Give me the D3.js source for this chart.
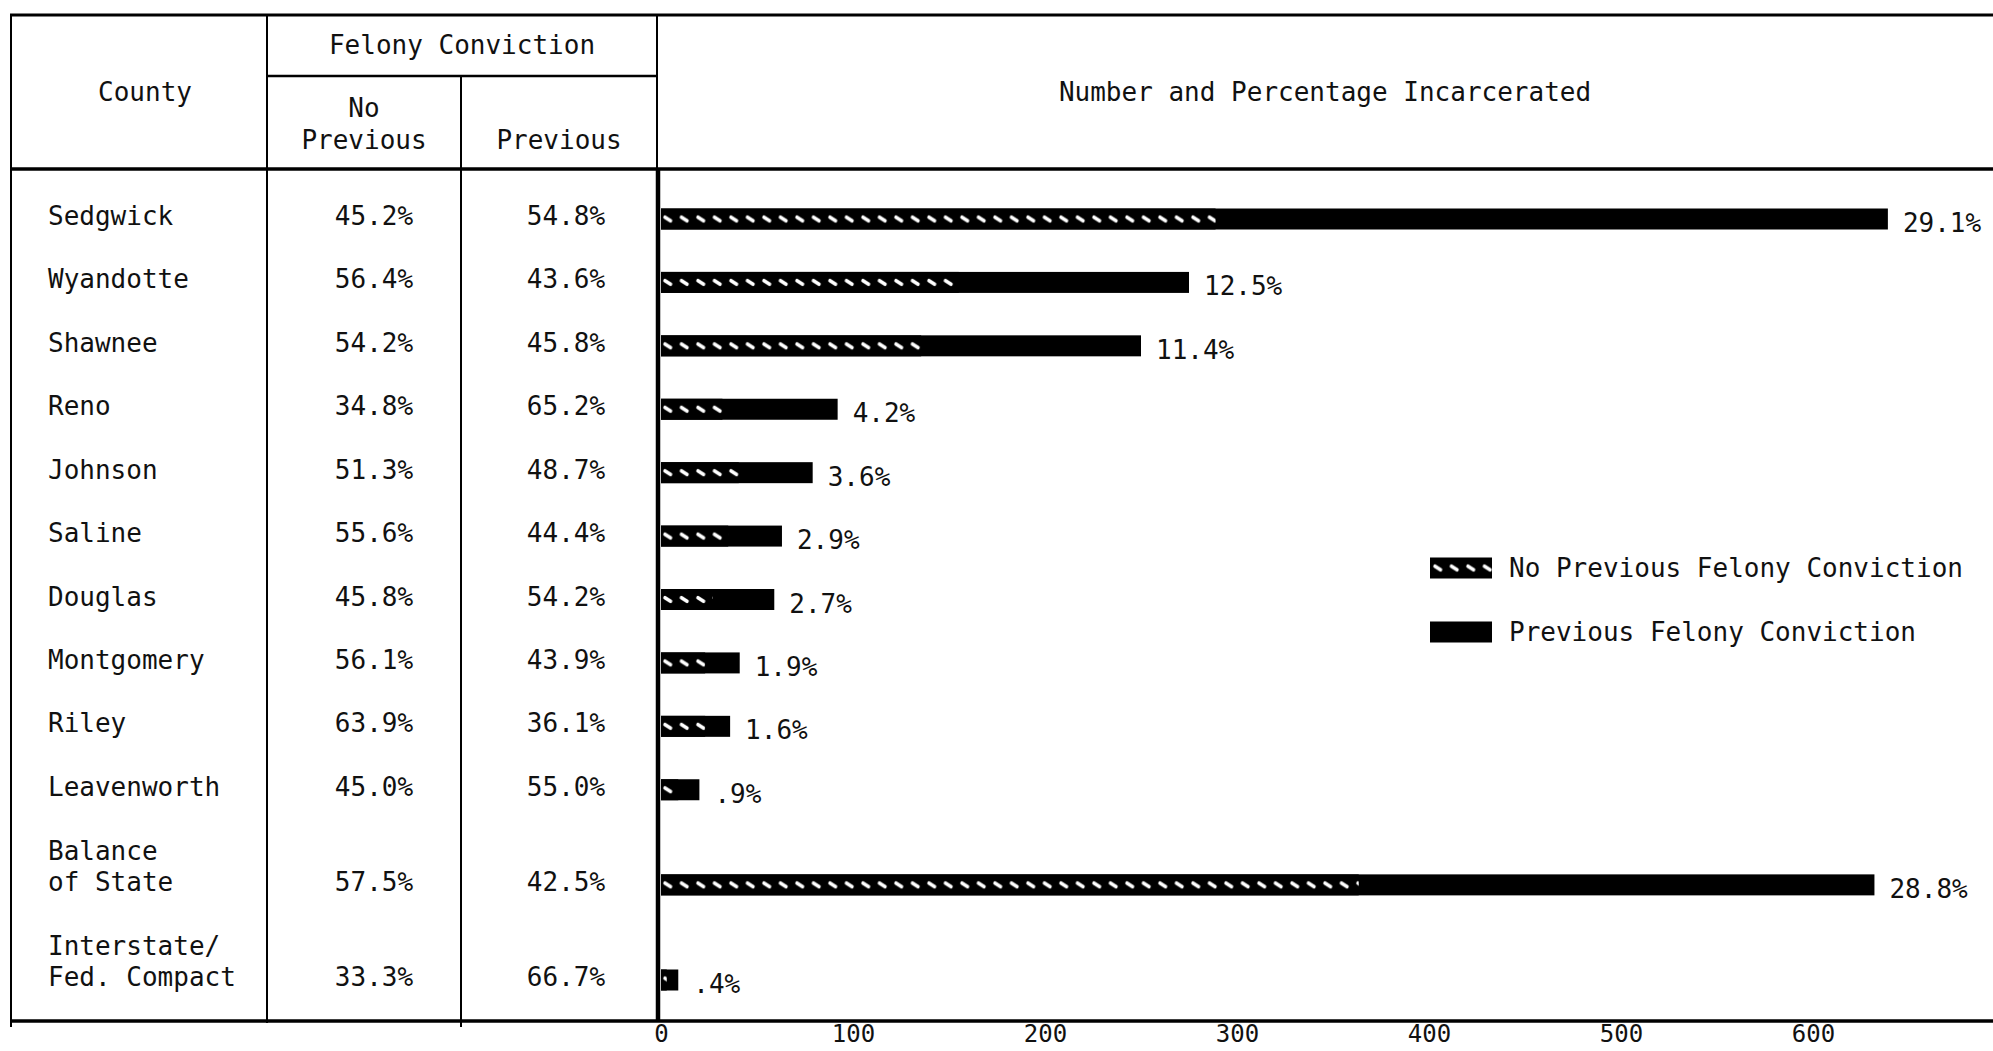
<!DOCTYPE html>
<html>
<head>
<meta charset="utf-8">
<script src="https://cdnjs.cloudflare.com/ajax/libs/d3/7.8.5/d3.min.js"></script>
<style>
  body { margin: 0; background: #fff; }
  text { font-family: "DejaVu Sans Mono", "Liberation Mono", monospace; fill: #111; }
</style>
</head>
<body>
<div id="hook-chart"></div>
<script>
'use strict';

// county rows (two-line names split on '|')
var counties = ['Sedgwick', 'Wyandotte', 'Shawnee', 'Reno', 'Johnson', 'Saline',
  'Douglas', 'Montgomery', 'Riley', 'Leavenworth', 'Balance|of State', 'Interstate/|Fed. Compact'];
var noPrevPct = [45.2, 56.4, 54.2, 34.8, 51.3, 55.6, 45.8, 56.1, 63.9, 45.0, 57.5, 33.3];
var prevPct   = [54.8, 43.6, 45.8, 65.2, 48.7, 44.4, 54.2, 43.9, 36.1, 55.0, 42.5, 66.7];
// number incarcerated
var totals    = [639, 275, 250, 92, 79, 63, 59, 41, 36, 20, 632, 9];
var pctLabels = ['29.1%', '12.5%', '11.4%', '4.2%', '3.6%', '2.9%', '2.7%', '1.9%', '1.6%', '.9%', '28.8%', '.4%'];
var xTicks    = [0, 100, 200, 300, 400, 500, 600];

var legendItems = ['No Previous Felony Conviction', 'Previous Felony Conviction'];

(function() {

var W = 1993, H = 1051;
var fs = 26;
var bh = 21;

var svg = d3.select('#hook-chart')
  .append('svg')
  .attr('width', W)
  .attr('height', H);

// hatch: black bar with a row of white slanted dashes
var defs = svg.append('defs');
var pat = defs.append('pattern')
  .attr('id', 'hatch')
  .attr('patternUnits', 'userSpaceOnUse')
  .attr('width', 16.5)
  .attr('height', bh);
pat.append('rect').attr('width', 16.5).attr('height', bh).attr('fill', '#000');
pat.append('line')
  .attr('x1', 5).attr('y1', bh / 2 - 1.8).attr('x2', 10.5).attr('y2', bh / 2 + 1.8)
  .attr('stroke', '#fff').attr('stroke-width', 3.6).attr('stroke-linecap', 'round');

// layout
var left = 11, topY = 15, bottom = 1021;
var col1 = 267, col2 = 461, col3 = 657;
var subY = 76, headY = 169;

var x = d3.scaleLinear().domain([0, 600]).range([661, 1813]);

// row positions: two-line rows take one and a half slots
var slots = [], pos = 0;
counties.forEach(function(c, i) {
  var lines = c.split('|').length;
  if (i > 0) pos += lines > 1 ? 1.5 : 1;
  slots.push(pos);
});
var y = d3.scaleLinear().domain([0, 12]).range([216, 977]);

var rows = counties.map(function(c, i) {
  return { lines: c.split('|'), np: noPrevPct[i], p: prevPct[i], total: totals[i], lab: pctLabels[i], yc: y(slots[i]) };
});

// ---- table lines ----
function hline(x1, x2, yy, w) {
  svg.append('line').attr('x1', x1).attr('x2', x2).attr('y1', yy).attr('y2', yy)
    .attr('stroke', '#000').attr('stroke-width', w);
}
function vline(xx, y1, y2, w) {
  svg.append('line').attr('x1', xx).attr('x2', xx).attr('y1', y1).attr('y2', y2)
    .attr('stroke', '#000').attr('stroke-width', w);
}
hline(left - 1, W, topY, 3);
hline(col1, col3, subY, 2.5);
hline(left - 1, W, headY, 3.5);
hline(left - 1, W, bottom, 3.5);
vline(left, topY - 1, bottom + 6, 2);
vline(col1, topY, bottom + 2, 2);
vline(col2, subY, bottom + 6, 2);
vline(col3, topY, headY, 2);
vline(col3 + 1, headY, bottom, 4.5);

// ---- headers ----
function txt(xx, yy, s, anchor) {
  return svg.append('text').attr('x', xx).attr('y', yy)
    .attr('text-anchor', anchor || 'middle')
    .attr('dominant-baseline', 'central')
    .style('font-size', fs + 'px')
    .text(s);
}
txt(145, 92, 'County');
txt((col1 + col3) / 2, 45, 'Felony Conviction');
txt((col1 + col2) / 2, 108, 'No');
txt((col1 + col2) / 2, 140, 'Previous');
txt((col2 + col3) / 2, 140, 'Previous');
txt(1325, 92, 'Number and Percentage Incarcerated');

// ---- table body ----
rows.forEach(function(r) {
  r.lines.forEach(function(l, k) {
    txt(48, r.yc - (r.lines.length - 1 - k) * 31, l, 'start');
  });
  txt(374, r.yc, d3.format('.1f')(r.np) + '%');
  txt(566, r.yc, d3.format('.1f')(r.p) + '%');
});

// ---- bars ----
var bars = svg.append('g').selectAll('g')
  .data(rows)
  .enter().append('g')
  .attr('transform', function(d) { return 'translate(0,' + (d.yc + 3 - bh / 2) + ')'; });

bars.append('rect')
  .attr('x', x(0))
  .attr('y', 0)
  .attr('width', function(d) { return x(d.total) - x(0); })
  .attr('height', bh)
  .attr('fill', '#000');

bars.append('rect')
  .attr('x', x(0))
  .attr('y', 0)
  .attr('width', function(d) { return x(d.total * d.np / 100) - x(0); })
  .attr('height', bh)
  .attr('fill', 'url(#hatch)');

bars.append('text')
  .attr('x', function(d) { return x(d.total) + 15; })
  .attr('y', bh / 2 + 4)
  .attr('dominant-baseline', 'central')
  .style('font-size', fs + 'px')
  .text(function(d) { return d.lab; });

// ---- axis ----
var axis = svg.append('g')
  .attr('transform', 'translate(0,' + (bottom + 1) + ')')
  .call(d3.axisBottom(x).tickValues(xTicks).tickSize(0).tickPadding(3).tickFormat(d3.format('d')));
axis.select('.domain').remove();
axis.selectAll('text')
  .style('font-size', '24px')
  .style('font-family', '"DejaVu Sans Mono", monospace')
  .attr('fill', '#111');

// ---- legend ----
var legend = svg.append('g').selectAll('g')
  .data(legendItems)
  .enter().append('g')
  .attr('transform', function(d, i) { return 'translate(1430,' + (568 + i * 64 - bh / 2) + ')'; });

legend.append('rect')
  .attr('x', 0).attr('y', 0)
  .attr('width', 62).attr('height', bh)
  .attr('fill', function(d, i) { return i === 0 ? 'url(#hatch)' : '#000'; });

legend.append('text')
  .attr('x', 79).attr('y', bh / 2)
  .attr('dominant-baseline', 'central')
  .style('font-size', fs + 'px')
  .text(function(d) { return d; });

}());
</script>
</body>
</html>
